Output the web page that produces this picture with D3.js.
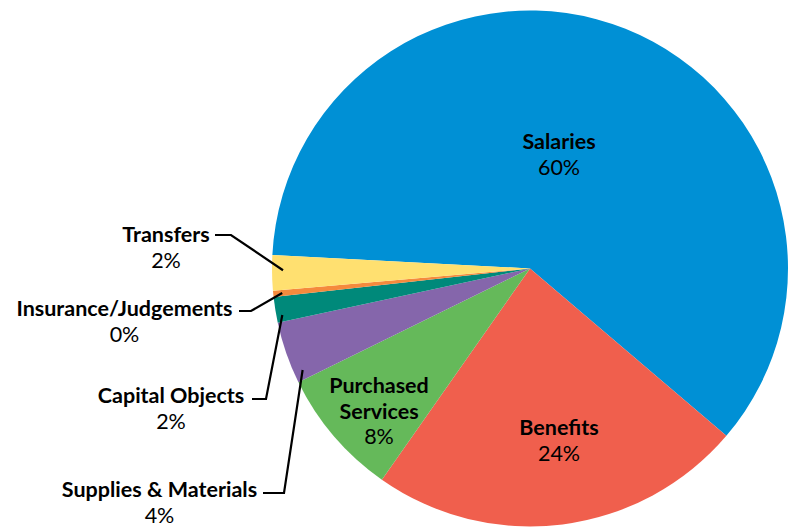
<!DOCTYPE html>
<html>
<head>
<meta charset="utf-8">
<script src="https://cdn.jsdelivr.net/npm/d3@7"></script>
<style>
  html, body { margin: 0; padding: 0; background: #fff; }
  svg { display: block; }
  text { font-family: Lato, "Open Sans", sans-serif; fill: #000; }
</style>
</head>
<body>
<svg id="chart" width="796" height="527"></svg>
<script>
// Budget share by expense category (percent of total)
const categories = ["Salaries", "Benefits", "Purchased Services", "Supplies & Materials",
                    "Capital Objects", "Insurance/Judgements", "Transfers"];
const shares = [60.4, 23.5, 8.0, 3.9, 1.6, 0.4, 2.2];
const colors = ["#0090d5", "#f05f4d", "#65b95a", "#8566ab", "#00897a", "#f58a3d", "#ffe070"];

const width = 796, height = 527;
const cx = 530, cy = 268.5, radius = 258;
const startDeg = -87;
const fontSize = 21.5;
const lineH = 25.5;

const svg = d3.select("#chart");
const g = svg.append("g").attr("transform", `translate(${cx},${cy})`);

const pie = d3.pie().sort(null)
  .startAngle(startDeg * Math.PI / 180)
  .endAngle((startDeg + 360) * Math.PI / 180)
  .value(d => d.value);

const data = categories.map((c, i) => ({ name: c, value: shares[i], color: colors[i] }));
const arcs = pie(data);

const arc = d3.arc().innerRadius(0).outerRadius(radius);

g.selectAll("path.slice")
  .data(arcs)
  .enter().append("path")
  .attr("class", "slice")
  .attr("d", arc)
  .attr("fill", d => d.data.color);

const pct = d => Math.round(d.data.value) + "%";

// Labels placed inside the larger slices (y = baseline of first line)
const inside = {
  "Salaries": { x: 559, y: 149, lines: ["Salaries"] },
  "Benefits": { x: 559, y: 435, lines: ["Benefits"] },
  "Purchased Services": { x: 379, y: 393, lines: ["Purchased", "Services"] }
};

// Labels outside with leader lines: t = position along slice, r = radius of the line's end
const outside = {
  "Transfers": { x: 166, y: 242, t: 0.57, r: 247, path: [[215, 235], [231, 235]] },
  "Insurance/Judgements": { x: 124.5, y: 316, t: 0.5, r: 249, path: [[239, 311], [251, 311]] },
  "Capital Objects": { x: 171, y: 403, t: 0.26, r: 252, path: [[252, 399], [266, 399]] },
  "Supplies & Materials": { x: 159.5, y: 497, t: 0.15, r: 249, path: [[263, 493], [284, 493]] }
};

function stackLabel(x, y, lines, value) {
  const t = svg.append("text").attr("text-anchor", "middle");
  lines.forEach((ln, i) => {
    t.append("tspan").attr("x", x).attr("y", y + i * lineH)
      .attr("font-weight", 700).attr("font-size", fontSize).text(ln);
  });
  t.append("tspan").attr("x", x).attr("y", y + lines.length * lineH)
    .attr("font-size", fontSize).text(value);
}

arcs.forEach(d => {
  const name = d.data.name;
  if (inside[name]) {
    const L = inside[name];
    stackLabel(L.x, L.y, L.lines, pct(d));
  } else if (outside[name]) {
    const L = outside[name];
    const a = d.startAngle + (d.endAngle - d.startAngle) * L.t;
    const end = [cx + L.r * Math.sin(a), cy - L.r * Math.cos(a)];
    svg.append("path")
      .attr("d", d3.line()(L.path.concat([end])))
      .attr("fill", "none").attr("stroke", "#000").attr("stroke-width", 2.2);
    stackLabel(L.x, L.y, [name], pct(d));
  }
});
</script>
</body>
</html>
